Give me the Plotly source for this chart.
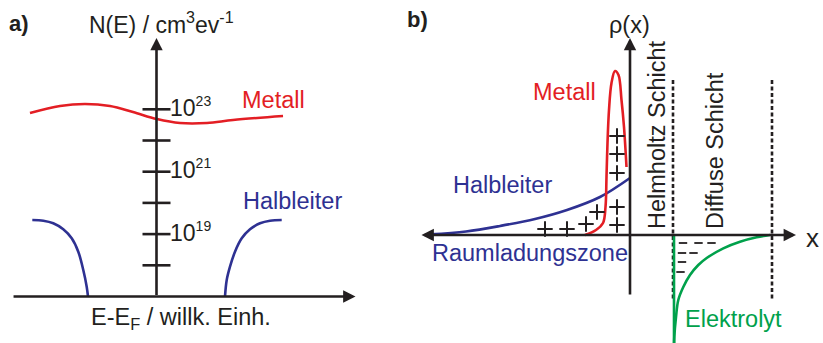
import plotly.graph_objects as go

# ---------------- colours / fonts ----------------
DARK = "#231f20"
RED = "#e31e24"
BLUE = "#2e3192"
GREEN = "#00a14b"
FONT = "Liberation Sans, Arial, sans-serif"

# ---------------- panel a: density of states ----------------
# energy E-E_F (arb. units) and log10 N(E)
metal_E = [-1.847, -1.409, -1.044, -0.679, -0.343, 0.007, 0.343, 0.737, 1.117, 1.847]
metal_logN = [22.881, 23.106, 23.170, 23.106, 22.913, 22.689, 22.561, 22.561, 22.657, 22.785]

valence_E = [-1.813, -1.652, -1.507, -1.361, -1.238, -1.142, -1.069, -1.019, -1.0]
valence_logN = [19.452, 19.429, 19.346, 19.154, 18.865, 18.436, 17.849, 17.314, 17.0]

conduction_E = [1.0, 1.025, 1.073, 1.146, 1.244, 1.365, 1.511, 1.657, 1.828]
conduction_logN = [17.0, 17.529, 17.955, 18.436, 18.865, 19.154, 19.346, 19.429, 19.452]

tick_logN = [18, 19, 20, 21, 22, 23]
labelled_logN = [19, 21, 23]
tick_exponents = ["19", "21", "23"]

# ---------------- panel b: charge density rho(x) ----------------
metal_x = [-2.25, -1.70, -1.35, -1.225, -1.175, -1.125, -1.05, -0.925, -0.75, -0.575, -0.425, -0.30, -0.175]
metal_rho = [0.0, 0.25, 0.60, 1.40, 2.90, 4.60, 6.25, 7.60, 8.20, 8.00, 6.75, 5.40, 3.40]

semi_x = [-10.0, -8.2, -6.5, -4.75, -3.15, -1.5, 0.0]
semi_rho = [0.03, 0.175, 0.45, 0.8, 1.25, 1.9, 2.85]

electrolyte_wall_x = [2.2, 2.2]
electrolyte_wall_rho = [0.0, -6.0]
electrolyte_x = [2.2, 2.215, 2.3, 2.415, 2.665, 3.0, 3.415, 3.835, 4.665, 5.5, 6.335, 7.0]
electrolyte_rho = [-6.0, -5.1, -4.1, -3.25, -2.6, -2.0, -1.5, -1.15, -0.665, -0.335, -0.115, 0.0]

plus_x = [-4.25, -3.15, -2.2, -1.65, -0.65, -0.65, -0.65, -0.65, -0.65]
plus_rho = [0.3, 0.3, 0.55, 1.15, 4.95, 4.05, 3.1, 1.4, 0.5]

minus_x = [2.65, 3.425, 4.075, 2.6, 3.175, 2.6, 2.525]
minus_rho = [-0.4, -0.4, -0.4, -0.9, -0.9, -1.35, -1.85]

helmholtz_x = 2.15
diffuse_end_x = 7.1
layer_rho = [7.75, -3.25]

# ---------------- figure ----------------
fig = go.Figure()

def line(x, y, color, xa="x", ya="y", shape="spline", width=2.6, dash=None):
    fig.add_trace(go.Scatter(
        x=x, y=y, mode="lines", xaxis=xa, yaxis=ya, hoverinfo="skip",
        line=dict(color=color, width=width, shape=shape, dash=dash, smoothing=1.0),
    ))

# panel a curves
line(metal_E, metal_logN, RED)
line(valence_E, valence_logN, BLUE)
line(conduction_E, conduction_logN, BLUE)

# panel a axis ticks
fig.add_trace(go.Scatter(
    x=[0] * len(tick_logN), y=tick_logN, mode="markers", hoverinfo="skip",
    marker=dict(symbol="line-ew", size=20, line=dict(color=DARK, width=2.6)),
))

# panel b layer boundaries
for xb in (helmholtz_x, diffuse_end_x):
    line([xb, xb], layer_rho, DARK, "x2", "y2", shape="linear", width=2.6, dash="4px,2.5px")

# panel b curves
line(semi_x, semi_rho, BLUE, "x2", "y2")
line(metal_x, metal_rho, RED, "x2", "y2")
line(electrolyte_wall_x, electrolyte_wall_rho, GREEN, "x2", "y2", shape="linear")
line(electrolyte_x, electrolyte_rho, GREEN, "x2", "y2")

# charges
fig.add_trace(go.Scatter(
    x=plus_x, y=plus_rho, mode="markers", xaxis="x2", yaxis="y2", hoverinfo="skip",
    marker=dict(symbol="cross-thin", size=11, line=dict(color=DARK, width=2)),
))
fig.add_trace(go.Scatter(
    x=minus_x, y=minus_rho, mode="markers", xaxis="x2", yaxis="y2", hoverinfo="skip",
    marker=dict(symbol="line-ew", size=6, line=dict(color=DARK, width=1.8)),
))

annotations = []

def arrow(x, y, ax, ay, xr, yr, both=False):
    a = dict(x=x, y=y, ax=ax, ay=ay, xref=xr, yref=yr, axref=xr, ayref=yr,
             text="", showarrow=True, arrowhead=2, arrowsize=0.95, arrowwidth=2.6,
             arrowcolor=DARK, standoff=0, startstandoff=0)
    if both:
        a.update(arrowside="end+start", startarrowhead=2, startarrowsize=0.95)
    annotations.append(a)

def label(x, y, text, xr, yr, color=DARK, size=23.5, xanchor="left", angle=0, bold=False):
    annotations.append(dict(
        x=x, y=y, xref=xr, yref=yr, text=f"<b>{text}</b>" if bold else text,
        showarrow=False, xanchor=xanchor, yanchor="middle", textangle=angle,
        font=dict(family=FONT, size=size, color=color),
    ))

# panel a axes
arrow(0, 25.285, 0, 17.0, "x", "y")
arrow(2.905, 17.0, -2.109, 17.0, "x", "y")

# panel b axes
arrow(0, 9.85, 0, -3.05, "x2", "y2")
arrow(8.3, 0, -10.5, 0, "x2", "y2", both=True)

# panel a text
label(-2.182, 25.75, "a)", "x", "y", size=22, bold=True)
label(-1.015, 25.77, "N(E) / cm<sup>3</sup>ev<sup>-1</sup>", "x", "y", size=23)
for yv, ex in zip(labelled_logN, tick_exponents):
    label(0.168, yv + 0.08, f"10<sup><span style='font-size:14px'>{ex}</span></sup>",
          "x", "y", size=23)
label(1.219, 23.30, "Metall", "x", "y", color=RED)
label(1.229, 20.05, "Halbleiter", "x", "y", color=BLUE)
label(0.358, 16.30, "E-E<sub>F</sub> / willk. Einh.", "x", "y", xanchor="center")

# panel b text
label(-11.25, 10.8, "b)", "x2", "y2", size=22, bold=True)
label(-0.05, 10.5, "\u03c1(x)", "x2", "y2", xanchor="center")
label(9.1, -0.15, "x", "x2", "y2", xanchor="center", size=26)
label(-1.615, 7.15, "Metall", "x2", "y2", color=RED, xanchor="right")
label(-8.965, 2.5, "Halbleiter", "x2", "y2", color=BLUE)
label(-10.0, -0.9, "Raumladungszone", "x2", "y2", color=BLUE)
label(2.635, -4.2, "Elektrolyt", "x2", "y2", color=GREEN)
label(1.35, 5.0, "Helmholtz Schicht", "x2", "y2", xanchor="center", angle=-90)
label(4.25, 4.2, "Diffuse Schicht", "x2", "y2", xanchor="center", angle=-90)

hidden = dict(visible=False, fixedrange=True, showgrid=False, zeroline=False)
split = 400 / 823

fig.update_layout(
    width=823, height=343,
    margin=dict(l=0, r=0, t=0, b=0),
    paper_bgcolor="white", plot_bgcolor="rgba(0,0,0,0)",
    showlegend=False,
    xaxis=dict(domain=[0, split], range=[-2.2847, 3.5547], **hidden),
    yaxis=dict(domain=[0, 1], range=[15.510, 26.503], **hidden),
    xaxis2=dict(domain=[split, 1], range=[-11.5, 9.65], anchor="y2", **hidden),
    yaxis2=dict(domain=[0, 1], range=[-5.4, 11.75], anchor="x2", **hidden),
    annotations=annotations,
)

fig.write_html("out.html", config=dict(displayModeBar=False))
